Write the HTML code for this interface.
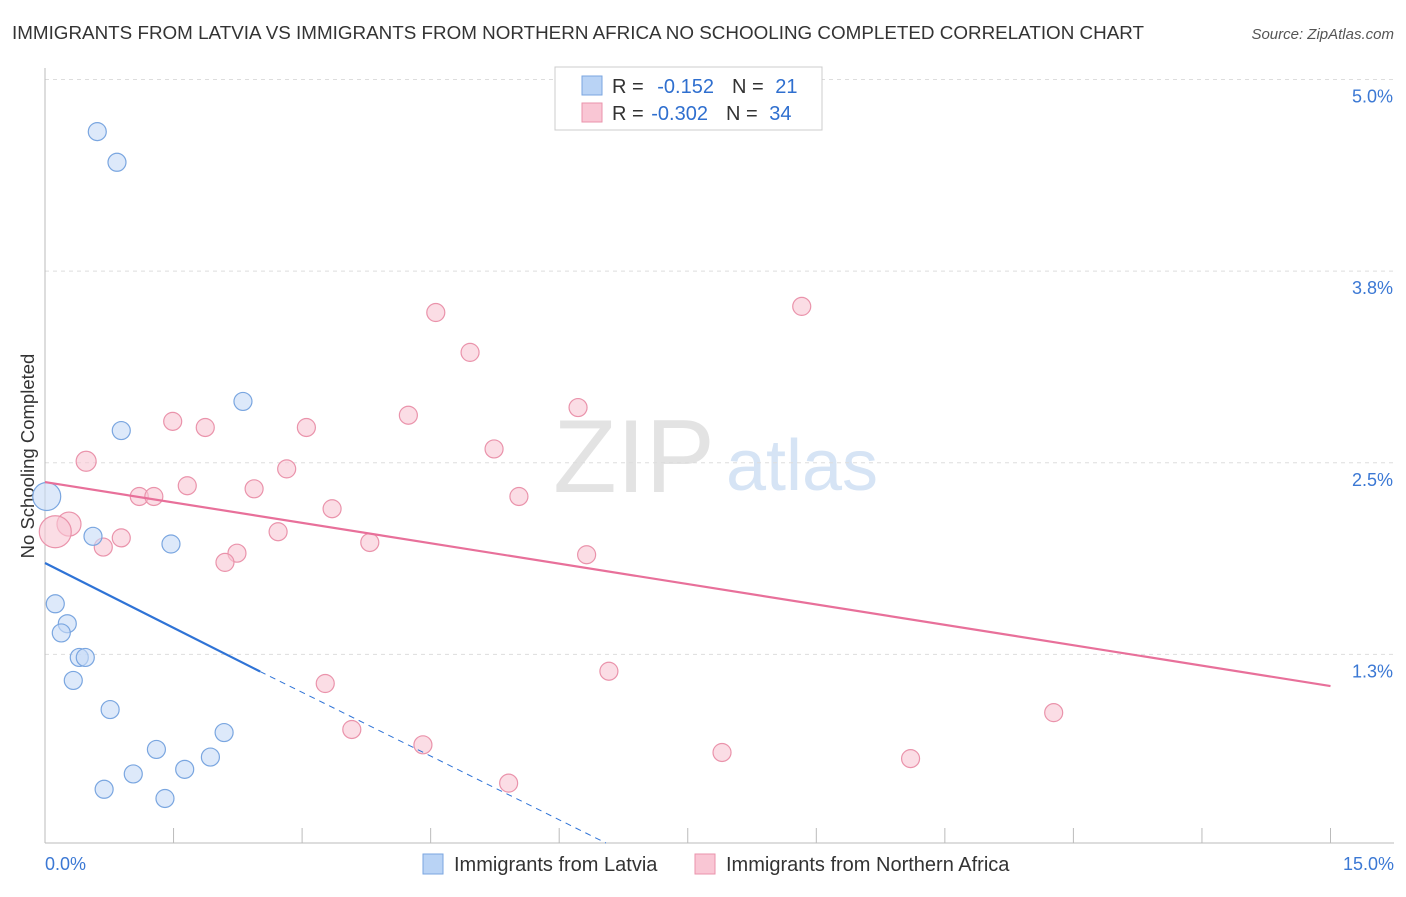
<!DOCTYPE html>
<html><head><meta charset="utf-8"><style>
body{margin:0;background:#fff;font-family:"Liberation Sans",sans-serif;}
svg text{font-family:"Liberation Sans",sans-serif;}
</style></head><body>
<svg id="c" width="1406" height="892" xmlns="http://www.w3.org/2000/svg">
<text x="12" y="39" font-size="18" textLength="1132" lengthAdjust="spacingAndGlyphs" fill="#333">IMMIGRANTS FROM LATVIA VS IMMIGRANTS FROM NORTHERN AFRICA NO SCHOOLING COMPLETED CORRELATION CHART</text>
<text x="1394" y="39" font-size="15" fill="#555" font-style="italic" text-anchor="end">Source: ZipAtlas.com</text>
<text x="634" y="492" font-size="104" fill="#e3e3e3" font-family="Liberation Serif" text-anchor="middle">ZIP</text>
<text x="802" y="490" font-size="72" fill="#d6e4f5" text-anchor="middle">atlas</text>
<text transform="translate(34,456) rotate(-90)" font-size="18.5" fill="#333" text-anchor="middle">No Schooling Completed</text>
<g id="grid"></g><g id="marks"></g>
<g>
<rect x="555" y="67" width="267" height="63" fill="#fff" stroke="#ccc"/>
<rect x="582" y="76" width="20" height="19" fill="#b9d3f5" stroke="#7aa6e0"/>
<rect x="582" y="103" width="20" height="19" fill="#f9c6d4" stroke="#ea93ab"/>
<text x="612" y="93" font-size="20" fill="#333">R = <tspan fill="#2f6fcf" dx="8">-0.152</tspan><tspan dx="18">N = </tspan><tspan fill="#2f6fcf" dx="6">21</tspan></text>
<text x="612" y="120" font-size="20" fill="#333">R = <tspan fill="#2f6fcf" dx="2">-0.302</tspan><tspan dx="18">N = </tspan><tspan fill="#2f6fcf" dx="6">34</tspan></text>
</g>
<rect x="423" y="854" width="20" height="20" fill="#b9d3f5" stroke="#7aa6e0"/>
<text x="454" y="871" font-size="20" fill="#333">Immigrants from Latvia</text>
<rect x="695" y="854" width="20" height="20" fill="#f9c6d4" stroke="#ea93ab"/>
<text x="726" y="871" font-size="20" fill="#333">Immigrants from Northern Africa</text>
</svg>
<script>
const yTicks=[5.0,3.75,2.5,1.25];
const yTickLabels=["5.0%","3.8%","2.5%","1.3%"];
const xTicks=[0,1.5,3,4.5,6,7.5,9,10.5,12,13.5,15];
const latviaX=[0.61,0.84,2.31,0.89,0.02,0.56,1.47,0.12,0.26,0.19,0.40,0.47,0.33,0.76,2.09,1.30,1.93,1.03,1.63,0.69,1.40];
const latviaY=[4.66,4.46,2.90,2.71,2.28,2.02,1.97,1.58,1.45,1.39,1.23,1.23,1.08,0.89,0.74,0.63,0.58,0.47,0.50,0.37,0.31];
const latviaS=[9,9,9,9,14,9,9,9,9,9,9,9,9,9,9,9,9,9,9,9,9];
const africaX=[4.56,8.83,4.96,6.22,4.24,1.49,1.87,3.05,5.24,0.48,2.82,1.66,2.44,1.10,1.27,5.53,3.35,0.28,0.12,2.72,0.89,3.79,0.68,2.24,6.32,2.10,6.58,3.27,11.77,3.58,4.41,7.90,10.10,5.41];
const africaY=[3.48,3.52,3.22,2.86,2.81,2.77,2.73,2.73,2.59,2.51,2.46,2.35,2.33,2.28,2.28,2.28,2.20,2.10,2.05,2.05,2.01,1.98,1.95,1.91,1.90,1.85,1.14,1.06,0.87,0.76,0.66,0.61,0.57,0.41];
const africaS=[9,9,9,9,9,9,9,9,9,10,9,9,9,9,9,9,9,12,16,9,9,9,9,9,9,9,9,9,9,9,9,9,9,9];
const latviaTrend=[1.846,-0.282];
const africaTrend=[2.374,-0.0887];
const X=v=>45+v*85.7, Y=v=>846-v*153.3;
const NS="http://www.w3.org/2000/svg";
function mk(t,a,p){const e=document.createElementNS(NS,t);for(const k in a)e.setAttribute(k,a[k]);p.appendChild(e);return e;}
const g=document.getElementById('grid'), m=document.getElementById('marks');
yTicks.forEach((v,i)=>{
 const l=mk('line',{x1:45,x2:1394,y1:Y(v),y2:Y(v),stroke:'#ddd','stroke-dasharray':'4,4'},g);
 
 
 const t=mk('text',{x:1393,y:Y(v)+23,'font-size':18,fill:'#3b78d4','text-anchor':'end'},g);
 t.textContent=yTickLabels[i];
 
 
});
const ax=mk('line',{x1:45,x2:1394,y1:843,y2:843,stroke:'#bbb'},g);


const ay=mk('line',{x1:45,x2:45,y1:68,y2:843,stroke:'#bbb'},g);


xTicks.forEach(v=>{const l=mk('line',{x1:X(v),x2:X(v),y1:828,y2:843,stroke:'#bbb'},g);
 
 });
[["0.0%",45,'start'],["15.0%",1394,'end']].forEach(d=>{const t=mk('text',{x:d[1],y:870,'font-size':18,fill:'#3b78d4','text-anchor':d[2]},g);t.textContent=d[0];
 
 });
function dots(xs,ys,ss,fill,stroke,name){xs.forEach((x,i)=>{const c=mk('circle',{cx:X(x),cy:Y(ys[i]),r:ss[i],fill:fill,'fill-opacity':0.6,stroke:stroke,'stroke-width':1.2},m);
 
 });}
dots(africaX,africaY,africaS,'#f9c6d4','#ea93ab','africa-point');
dots(latviaX,latviaY,latviaS,'#c6dbf7','#7aa6e0','latvia-point');
const at=mk('line',{x1:X(0),y1:Y(africaTrend[0]),x2:X(15),y2:Y(africaTrend[0]+15*africaTrend[1]),stroke:'#e8709a','stroke-width':2.2},m);


const lx=2.51, lz=-latviaTrend[0]/latviaTrend[1];
const lt=mk('line',{x1:X(0),y1:Y(latviaTrend[0]),x2:X(lx),y2:Y(latviaTrend[0]+lx*latviaTrend[1]),stroke:'#2f73d6','stroke-width':2.2},m);


const ld=mk('line',{x1:X(lx),y1:Y(latviaTrend[0]+lx*latviaTrend[1]),x2:X(lz),y2:Y(0)-3,stroke:'#2f73d6','stroke-width':1,'stroke-dasharray':'6,5'},m);


</script>
</body></html>
